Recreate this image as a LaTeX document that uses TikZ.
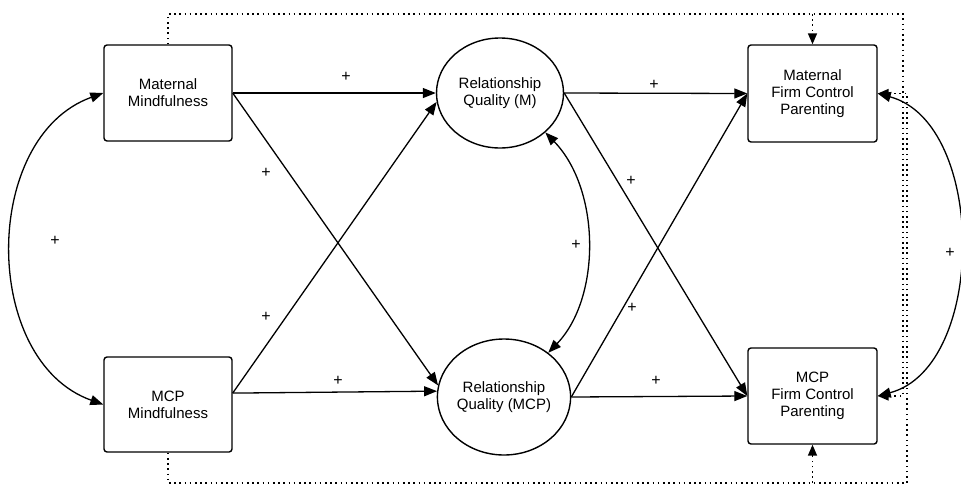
\documentclass[tikz,border=0pt]{standalone}
\usepackage{fontspec}
\setmainfont{Liberation Sans}
\usetikzlibrary{arrows.meta,shapes.geometric}
\newlength{\du}
\setlength{\du}{1pt}
\tikzset{
  varbox/.style={draw, line width=1.4\du, rounded corners=3\du, fill=white, align=center, inner sep=0pt, font=\fontsize{15}{17}\selectfont},
  latent/.style={draw, ellipse, line width=1.4\du, fill=white, align=center, inner sep=0pt, font=\fontsize{15}{17}\selectfont},
  effect/.style={line width=1.3\du, -{Triangle[length=13pt,width=10pt]}},
  covary/.style={line width=1.3\du, {Triangle[length=13pt,width=10pt]}-{Triangle[length=13pt,width=10pt]}},
  direct/.style={line width=1.6\du, dash pattern=on 1.6\du off 3.6\du, -{Triangle[length=11pt,width=9pt]}},
  sign/.style={font=\fontsize{16}{16}\selectfont, inner sep=0pt},
}
\begin{document}
\begin{tikzpicture}
\pgftransformyscale{-1.000000}
\useasboundingbox (0,0) rectangle (961\du,485\du);
% observed variables
\node[varbox, minimum width=128\du, minimum height=96\du] (mm) at (168\du,93\du) {Maternal\\Mindfulness};
\node[varbox, minimum width=128\du, minimum height=95\du] (mcpm) at (168\du,404.5\du) {MCP\\Mindfulness};
\node[varbox, minimum width=129\du, minimum height=97\du] (mfcp) at (812.5\du,93.5\du) {Maternal\\Firm Control\\Parenting};
\node[varbox, minimum width=129\du, minimum height=96\du] (mcpfcp) at (812.5\du,396\du) {MCP\\Firm Control\\Parenting};
% mediators
\node[latent, minimum width=127\du, minimum height=110\du] (rqm) at (500\du,93\du) {Relationship\\Quality (M)};
\node[latent, minimum width=125\du, minimum height=116\du] (rqc) at (504\du,397\du) {Relationship\\Quality (MCP)};
% paths
\draw[effect] (mm.east) -- (rqm.west);
\draw[effect] (mm.east) -- (rqc.170);
\draw[effect] (mcpm.10) -- (rqm.188);
\draw[effect] (mcpm.10) -- (rqc.175);
\draw[effect] (rqm.east) -- (mfcp.west);
\draw[effect] (rqm.east) -- (mcpfcp.west);
\draw[effect] (rqc.east) -- (mfcp.west);
\draw[effect] (rqc.east) -- (mcpfcp.west);
% covariances
\draw[covary] (mm.west) .. controls (-19\du,137\du) and (-19\du,361\du) .. (mcpm.west);
\draw[covary] (rqm.-41) .. controls (601\du,190\du) and (601\du,298\du) .. (rqc.45);
\draw[covary] (mfcp.east) .. controls (987\du,123\du) and (987\du,367\du) .. (mcpfcp.east);
% direct effects
\coordinate (topy) at (0,14\du);
\coordinate (rail1) at (903\du,14\du);
\coordinate (rail2) at (907\du,483\du);
\draw[direct] (mm.north) -- (mm.north |- topy) -- (rail1) -- (rail1 |- mcpfcp.east) -- (mcpfcp.east);
\draw[direct] (mfcp.north |- topy) -- (mfcp.north);
\draw[direct] (mcpm.south) -- (mcpm.south |- rail2) -- (rail2) -- (rail2 |- mfcp.east) -- (mfcp.east);
\draw[direct] (mcpfcp.south |- rail2) -- (mcpfcp.south);
% signs
\node[sign] (s1) at (346\du,77\du) {+};
\node[sign] (s2) at (266\du,173\du) {+};
\node[sign] (s3) at (55\du,241\du) {+};
\node[sign] (s4) at (266\du,317\du) {+};
\node[sign] (s5) at (338\du,381\du) {+};
\node[sign] (s6) at (654\du,85\du) {+};
\node[sign] (s7) at (631\du,181\du) {+};
\node[sign] (s8) at (576\du,245\du) {+};
\node[sign] (s9) at (632\du,308\du) {+};
\node[sign] (s10) at (656\du,381\du) {+};
\node[sign] (s11) at (950\du,253\du) {+};
\end{tikzpicture}
\end{document}
